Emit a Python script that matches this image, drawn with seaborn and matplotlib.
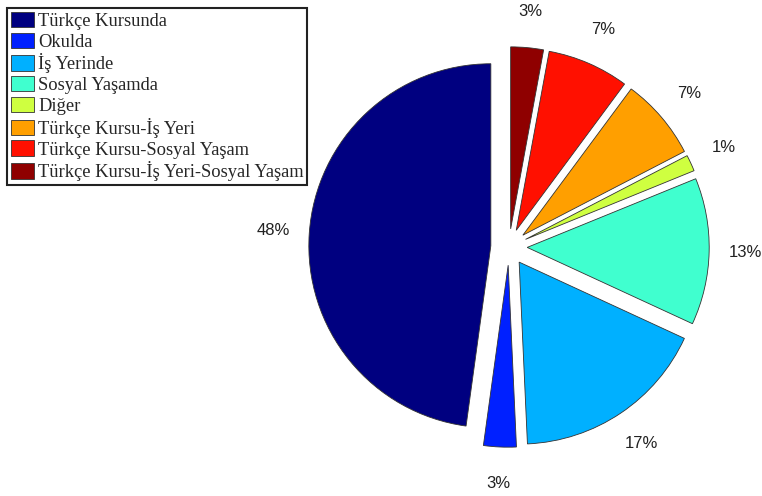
import numpy as np
import matplotlib
matplotlib.use("Agg")
import matplotlib.pyplot as plt
import seaborn as sns

# Where the language is used (number of respondents, n = 69)
categories = [
    "Türkçe Kursunda",
    "Okulda",
    "İş Yerinde",
    "Sosyal Yaşamda",
    "Diğer",
    "Türkçe Kursu-İş Yeri",
    "Türkçe Kursu-Sosyal Yaşam",
    "Türkçe Kursu-İş Yeri-Sosyal Yaşam",
]
counts = [33, 2, 12, 9, 1, 5, 5, 2]

# Jet-style colours, one per slice
slice_colors = [
    (0.0, 0.0, 0.5),
    (0.0, 0.125, 1.0),
    (0.0, 0.69, 1.0),
    (0.25, 1.0, 0.81),
    (0.81, 1.0, 0.25),
    (1.0, 0.625, 0.0),
    (1.0, 0.0625, 0.0),
    (0.5625, 0.0, 0.0),
]

sns.set_theme(style="white")
plt.rcParams["font.family"] = ["Liberation Sans", "DejaVu Sans"]

W, H = 762, 496
fig = plt.figure(figsize=(W / 100, H / 100), dpi=100)

# Square axes centred on the pie
cx, cy, half = 509, 247, 250
ax = fig.add_axes([(cx - half) / W, (H - cy - half) / H, 2 * half / W, 2 * half / H])

palette = sns.color_palette(slice_colors)
wedges, texts, autotexts = ax.pie(
    counts,
    colors=palette,
    explode=[0.1] * len(counts),
    startangle=90,
    counterclock=True,
    autopct="%.0f%%",
    pctdistance=1.2,
    wedgeprops=dict(edgecolor="#333333", linewidth=0.6),
    textprops=dict(fontsize=12, color="#222222"),
)
lim = half / 182
ax.set_xlim(-lim, lim)
ax.set_ylim(-lim, lim)
ax.set_aspect("equal")
ax.axis("off")

leg = fig.legend(
    wedges,
    categories,
    loc="upper left",
    bbox_to_anchor=(7 / W, 1 - 8 / H),
    borderaxespad=0,
    frameon=True,
    fancybox=False,
    edgecolor="#222222",
    framealpha=1,
    prop=dict(family=["Liberation Serif", "DejaVu Serif"], size=13.3),
    handlelength=1.28,
    handleheight=0.9,
    handletextpad=0.2,
    labelspacing=0.15,
    borderpad=0.2,
)
leg.get_frame().set_linewidth(1.5)

fig.savefig("out.png", dpi=100)
